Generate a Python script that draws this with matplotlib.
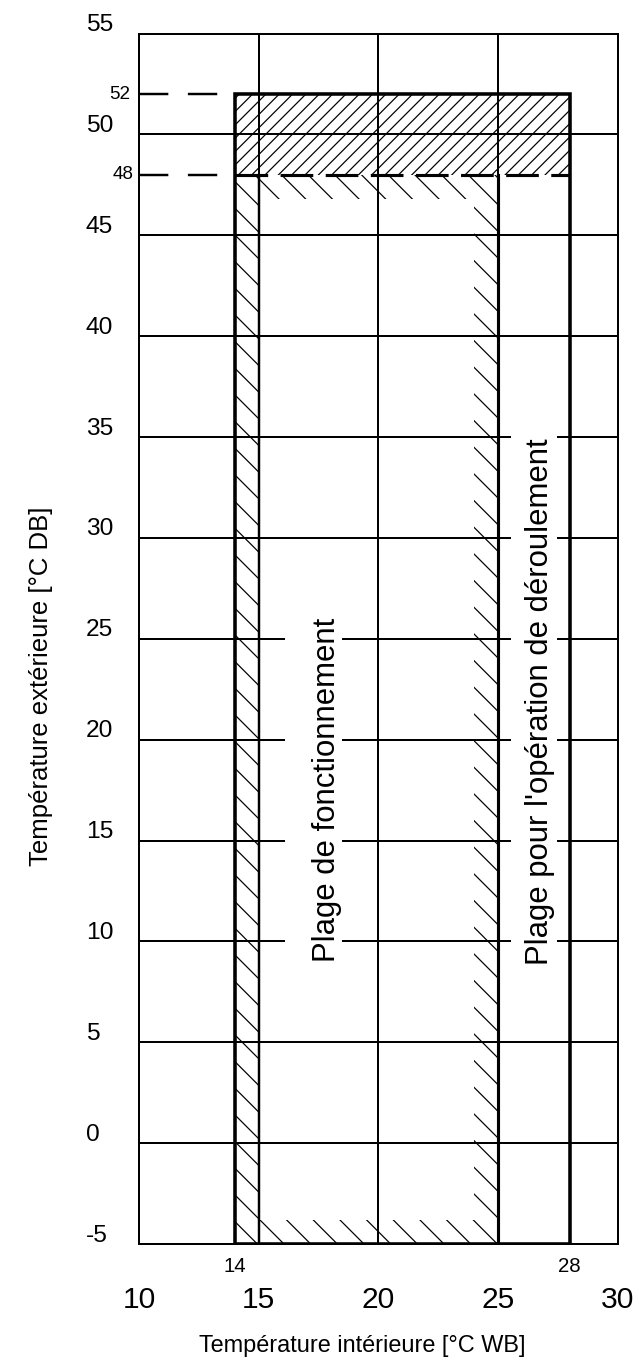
import matplotlib
matplotlib.use("Agg")
import matplotlib.pyplot as plt
from matplotlib import font_manager
from matplotlib.patches import Rectangle

# axes ranges and grid
x_min, x_max = 10, 30
y_min, y_max = -5, 55
x_ticks = [10, 15, 20, 25, 30]
y_ticks = [55, 50, 45, 40, 35, 30, 25, 20, 15, 10, 5, 0, -5]

# envelope limits
wb_low, wb_high = 14, 28      # outer box, indoor WB
wb_run = 25                   # right edge of the operating range
db_low = -5
db_run_top = 48               # top of the operating range
db_top = 52                   # top of the outer box

# depth of the hatched inner border of the operating range
depth_side = 1.0
depth_top = 1.2
depth_bottom = 1.2

x_extra = [14, 28]
y_extra = [52, 48]

xlabel = "Température intérieure [°C WB]"
ylabel = "Température extérieure [°C DB]"
label_run = "Plage de fonctionnement"
label_roll = "Plage pour l'opération de déroulement"

plt.rcParams['font.family'] = ['Liberation Sans', 'DejaVu Sans']
plt.rcParams['hatch.linewidth'] = 0.55

names = {f.name for f in font_manager.fontManager.ttflist}
if 'Liberation Sans Narrow' in names:
    ytick_font, ytick_size = ['Liberation Sans Narrow', 'Liberation Sans'], 11.5
else:
    ytick_font, ytick_size = ['Liberation Sans'], 11

W, H, DPI = 639, 1363, 160
fig = plt.figure(figsize=(W / DPI, H / DPI), dpi=DPI)
ax = fig.add_axes([139 / W, (H - 1244) / H, 478.5 / W, 1210.5 / H])
ax.set_xlim(x_min, x_max)
ax.set_ylim(y_min, y_max)
ax.set_xticks(x_ticks)
ax.set_yticks(y_ticks)
ax.tick_params(length=0, labelbottom=False, labelleft=False)
ax.set_axisbelow(True)
ax.grid(True, color='black', lw=0.9)
for s in ax.spines.values():
    s.set_linewidth(0.9)

# hatched band 48..52
ax.add_patch(Rectangle((wb_low, db_run_top), wb_high - wb_low, db_top - db_run_top,
                       facecolor='none', edgecolor='black', lw=0, hatch='////'))
# hatched inner border of the operating range
run_strips = [
    (wb_low, db_low, depth_side, db_run_top - db_low),
    (wb_low + depth_side, db_run_top - depth_top, wb_run - wb_low - depth_side, depth_top),
    (wb_run - depth_side, db_low, depth_side, db_run_top - depth_top - db_low),
    (wb_low + depth_side, db_low, wb_run - wb_low - 2 * depth_side, depth_bottom),
]
for x0, y0, w, h in run_strips:
    ax.add_patch(Rectangle((x0, y0), w, h, facecolor='none', edgecolor='black',
                           lw=0, hatch='\\\\'))

# outer box and operating range edge
ax.add_patch(Rectangle((wb_low, db_low), wb_high - wb_low, db_top - db_low,
                       fill=False, edgecolor='black', lw=1.6, zorder=3))
ax.plot([wb_run, wb_run], [db_low, db_run_top], color='black', lw=1.4)
ax.plot([x_ticks[1], x_ticks[1]], [db_low, db_run_top], color='black', lw=1.1)

# dashed reference lines
for v in y_extra:
    ax.plot([x_min, wb_low], [v, v], color='black', lw=1.1, ls=(0, (12, 8)),
            clip_on=False)
ax.plot([wb_low, wb_high], [db_run_top, db_run_top], color='black', lw=1.4,
        ls=(0, (10.5, 4)))

# tick labels
ytf = ax.get_yaxis_transform()
for v in y_ticks:
    ax.text(-0.111, v + 0.42, str(v), transform=ytf, ha='left', va='center',
            fontsize=ytick_size, family=ytick_font)
for v, xo in zip(y_extra, [-0.019, -0.011]):
    ax.text(xo, v, str(v), transform=ytf, ha='right', va='center', fontsize=8.5)

xtf = ax.get_xaxis_transform()
for v in x_ticks:
    ax.text(v, -0.0465, str(v), transform=xtf, ha='center', va='center',
            fontsize=13.5, clip_on=False)
for v in x_extra:
    ax.text(v, -0.0184, str(v), transform=xtf, ha='center', va='center',
            fontsize=9.2, clip_on=False)

# axis titles
ax.text(0.466, -0.089, xlabel, transform=ax.transAxes, ha='center',
        va='baseline', fontsize=10.6)
ax.text(-0.191, 0.461, ylabel, transform=ax.transAxes, rotation=90,
        rotation_mode='anchor', ha='center', va='baseline', fontsize=11.6)

# range labels with white backdrop (pads in pixels: left, right, vertical)
inner = [(18.2, 17.52, label_run, (27, 0, 6)),
         (27.11, 21.88, label_roll, (14, 2, 6))]
texts = []
for x, y, s, pads in inner:
    t = ax.text(x, y, s, rotation=90, rotation_mode='anchor', ha='center',
                va='baseline', fontsize=14, zorder=4)
    texts.append((t, pads))

fig.canvas.draw()
r = fig.canvas.get_renderer()
inv = ax.transData.inverted()
for t, (pl, pr, pv) in texts:
    bb = t.get_window_extent(renderer=r)
    (x0, y0), (x1, y1) = inv.transform([(bb.x0 - pl, bb.y0 - pv), (bb.x1 + pr, bb.y1 + pv)])
    ax.add_patch(Rectangle((x0, y0), x1 - x0, y1 - y0, facecolor='white',
                           edgecolor='none', zorder=2.5))

fig.savefig('out.png', dpi=DPI)
